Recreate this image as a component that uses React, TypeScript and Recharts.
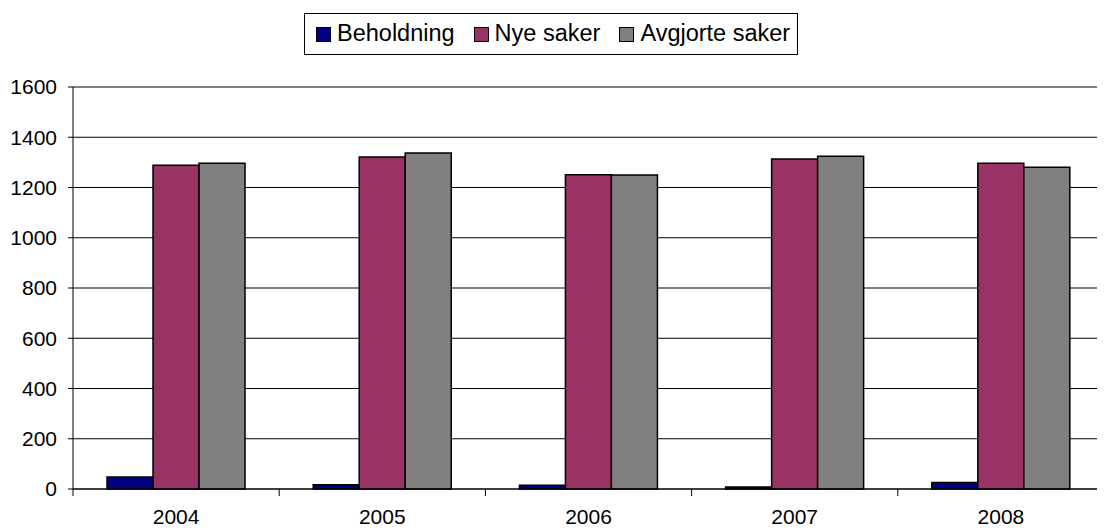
import { BarChart, Bar, XAxis, YAxis, CartesianGrid, Legend, ReferenceLine } from "recharts";

const YEARS = ["2004", "2005", "2006", "2007", "2008"];
const BEHOLDNING = [48, 17, 15, 8, 26];
const NYE_SAKER = [1289, 1321, 1251, 1313, 1297];
const AVGJORTE_SAKER = [1297, 1337, 1250, 1324, 1281];
const Y_TICKS = [0, 200, 400, 600, 800, 1000, 1200, 1400, 1600];

const SERIES = [
  { key: "beholdning", name: "Beholdning", color: "#000080" },
  { key: "nye", name: "Nye saker", color: "#993366" },
  { key: "avgjorte", name: "Avgjorte saker", color: "#808080" },
];

const data = YEARS.map((year, i) => ({
  year,
  beholdning: BEHOLDNING[i],
  nye: NYE_SAKER[i],
  avgjorte: AVGJORTE_SAKER[i],
}));

const FONT = "'Liberation Sans', Arial, sans-serif";

const LegendBox = () => (
  <div
    style={{
      display: "inline-flex",
      alignItems: "center",
      boxSizing: "border-box",
      marginLeft: 304,
      height: 42,
      padding: "0 7px 0 11px",
      border: "1px solid #000",
      background: "#fff",
      fontFamily: FONT,
      fontSize: 23.5,
      lineHeight: 1,
      color: "#000",
    }}
  >
    {SERIES.map((s, i) => (
      <span key={s.key} style={{ display: "inline-flex", alignItems: "center", marginLeft: i ? 19 : 0 }}>
        <span style={{ width: 13, height: 13, background: s.color, border: "1px solid #000", marginRight: 6 }} />
        {s.name}
      </span>
    ))}
  </div>
);

const YearTick = ({ x, y, payload, index }: any) => {
  const half = payload.offset || 0;
  return (
    <g>
      <line x1={x - half} x2={x - half} y1={y - 7} y2={y} stroke="#000" />
      {index === YEARS.length - 1 && (
        <line x1={x + half} x2={x + half} y1={y - 7} y2={y} stroke="#000" />
      )}
      <text x={x} y={y + 28} textAnchor="middle" fontFamily={FONT} fontSize={21} fill="#000">
        {payload.value}
      </text>
    </g>
  );
};

export default function App() {
  return (
    <div style={{ margin: -8, background: "#fff", width: 1105, height: 532 }}>
      <BarChart
        width={1105}
        height={532}
        data={data}
        margin={{ top: 45, right: 1, left: 0, bottom: 0 }}
        barCategoryGap="16.5%"
        barGap={0}
      >
        <Legend
          verticalAlign="top"
          wrapperStyle={{ top: 13, left: 0, width: 1105 }}
          content={<LegendBox />}
        />
        <CartesianGrid horizontal vertical={false} stroke="#000" />
        <ReferenceLine y={1600} stroke="#808080" />
        <XAxis
          dataKey="year"
          axisLine={{ stroke: "#000" }}
          tickLine={false}
          tickSize={7}
          tickMargin={0}
          height={43}
          interval={0}
          tick={<YearTick />}
        />
        <YAxis
          domain={[0, 1600]}
          ticks={Y_TICKS}
          width={73}
          tickSize={5}
          tickMargin={11}
          axisLine={{ stroke: "#000" }}
          tickLine={{ stroke: "#000" }}
          tick={{ fill: "#000", fontFamily: FONT, fontSize: 21 }}
        />
        {SERIES.map((s) => (
          <Bar
            key={s.key}
            dataKey={s.key}
            name={s.name}
            fill={s.color}
            stroke="#000"
            strokeWidth={1.5}
            isAnimationActive={false}
          />
        ))}
      </BarChart>
    </div>
  );
}
